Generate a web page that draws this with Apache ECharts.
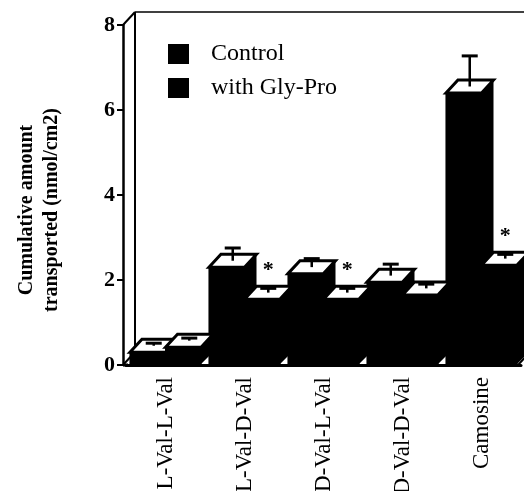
<!DOCTYPE html>
<html>
<head>
<meta charset="utf-8">
<script src="https://cdn.jsdelivr.net/npm/echarts@6/dist/echarts.min.js"></script>
<style>
html,body{margin:0;padding:0;background:#fff;}
#chart{width:524px;height:491px;}
</style>
</head>
<body>
<div id="chart"></div>
<script>
const categories = ['L-Val-L-Val', 'L-Val-D-Val', 'D-Val-L-Val', 'D-Val-D-Val', 'Camosine'];
const seriesNames = ['Control', 'with Gly-Pro'];
const controlValues = [0.3, 2.3, 2.15, 1.95, 6.4];
const controlErrors = [0.06, 0.3, 0.2, 0.27, 0.72];
const glyProValues = [0.42, 1.55, 1.55, 1.65, 2.35];
const glyProErrors = [0.06, 0.1, 0.1, 0.1, 0.1];
const significant = [false, true, true, false, true];
const yTicks = [0, 2, 4, 6, 8];

const FONT = "'Liberation Serif', 'Times New Roman', serif";
const DX = 12, DY = -13;

function makeRender(sIdx) {
  return function (params, api) {
    const i = api.value(0), v = api.value(1), e = api.value(2);
    const base = api.coord([i, 0]);
    const top = api.coord([i, v]);
    const errTop = api.coord([i, v + e]);
    const band = api.size([1, 0])[0];
    const w = band * 0.45;
    const x0 = sIdx === 0 ? base[0] - w : base[0];
    const x1 = x0 + w;
    const yb = base[1], yt = top[1];
    const cx = x0 + w / 2 + DX / 2;
    const cy = yt + DY / 2;
    const ey = errTop[1] + DY / 2;
    const children = [
      { type: 'polygon', shape: { points: [[x1 - 1, yt], [x1 + DX, yt + DY], [x1 + DX, yb + DY], [x1 - 1, yb]] }, style: { fill: '#000' } },
      { type: 'rect', shape: { x: x0 - 0.5, y: yt, width: w + 1, height: yb - yt }, style: { fill: '#000' } },
      { type: 'polygon', shape: { points: [[x0, yt], [x0 + DX, yt + DY], [x1 + DX, yt + DY], [x1, yt]] }, style: { fill: '#fff', stroke: '#000', lineWidth: 3, lineJoin: 'miter' } },
      { type: 'line', shape: { x1: cx, y1: cy, x2: cx, y2: ey }, style: { stroke: '#000', lineWidth: 2.5 } },
      { type: 'line', shape: { x1: cx - 8, y1: ey, x2: cx + 8, y2: ey }, style: { stroke: '#000', lineWidth: 3 } }
    ];
    if (sIdx === 1 && significant[i]) {
      children.push({ type: 'text', x: cx, y: ey - 18, style: { text: '*', fontSize: 22, fontWeight: 'bold', fontFamily: FONT, fill: '#000', align: 'center', verticalAlign: 'middle' } });
    }
    return { type: 'group', children: children };
  };
}

function renderFrame(params, api) {
  const cs = params.coordSys;
  const xl = cs.x - 3, xr = cs.x + cs.width, yt = cs.y, yb = cs.y + cs.height;
  const st = { stroke: '#000', lineWidth: 2 };
  return {
    type: 'group',
    children: [
      { type: 'line', shape: { x1: xl, y1: yt, x2: xl + DX, y2: yt + DY }, style: st },
      { type: 'line', shape: { x1: xl + DX, y1: yt + DY, x2: xl + DX, y2: yb + DY }, style: st },
      { type: 'line', shape: { x1: xl, y1: yb, x2: xl + DX, y2: yb + DY }, style: st },
      { type: 'line', shape: { x1: xl + DX, y1: yt + DY, x2: 530, y2: yt + DY }, style: { stroke: '#000', lineWidth: 1.5 } },
      { type: 'line', shape: { x1: xr - 3, y1: yb, x2: xr - 3 + DX, y2: yb + DY }, style: st },
      { type: 'line', shape: { x1: xl, y1: yb, x2: cs.x + 2, y2: yb }, style: { stroke: '#000', lineWidth: 3 } }
    ]
  };
}

const chart = echarts.init(document.getElementById('chart'), null, { renderer: 'canvas' });
chart.setOption({
  animation: false,
  backgroundColor: '#fff',
  grid: { left: 126, top: 25, width: 395, height: 340, containLabel: false, outerBoundsMode: 'none' },
  legend: {
    data: seriesNames,
    orient: 'vertical',
    left: 168, top: 42,
    padding: 0,
    itemWidth: 21, itemHeight: 20, itemGap: 10,
    icon: 'rect',
    textStyle: { fontFamily: FONT, fontSize: 24, color: '#000', padding: [0, 0, 0, 17] }
  },
  xAxis: {
    type: 'category',
    data: categories,
    axisLine: { lineStyle: { color: '#000', width: 3 } },
    axisTick: { show: false },
    axisLabel: { rotate: 90, margin: 12, fontFamily: FONT, fontSize: 23, color: '#000', interval: 0 },
    splitLine: { show: false }
  },
  yAxis: {
    type: 'value',
    min: 0, max: 8, interval: 2,
    offset: 3,
    name: 'Cumulative amount\ntransported (nmol/cm2)',
    nameLocation: 'middle',
    nameRotate: 90,
    nameGap: 59,
    nameTextStyle: { fontFamily: FONT, fontSize: 20, fontWeight: 'bold', color: '#000', lineHeight: 25, padding: [0, 30, 0, 0] },
    axisLine: { show: true, lineStyle: { color: '#000', width: 2.5 } },
    axisTick: { show: true, length: 6, lineStyle: { color: '#000', width: 2 } },
    axisLabel: { margin: 8, fontFamily: FONT, fontSize: 22, fontWeight: 'bold', color: '#000', formatter: function (v) { return yTicks.indexOf(v) >= 0 ? String(v) : ''; } },
    splitLine: { show: false }
  },
  series: [
    { type: 'custom', name: 'frame', silent: true, renderItem: renderFrame, data: [[0, 0]], encode: { x: 0, y: 1 }, z: 1 },
    { type: 'custom', name: seriesNames[0], itemStyle: { color: '#000' }, renderItem: makeRender(0), encode: { x: 0, y: 1 }, z: 2,
      data: controlValues.map(function (v, i) { return [i, v, controlErrors[i]]; }) },
    { type: 'custom', name: seriesNames[1], itemStyle: { color: '#000' }, renderItem: makeRender(1), encode: { x: 0, y: 1 }, z: 2,
      data: glyProValues.map(function (v, i) { return [i, v, glyProErrors[i]]; }) }
  ]
});
</script>
</body>
</html>
